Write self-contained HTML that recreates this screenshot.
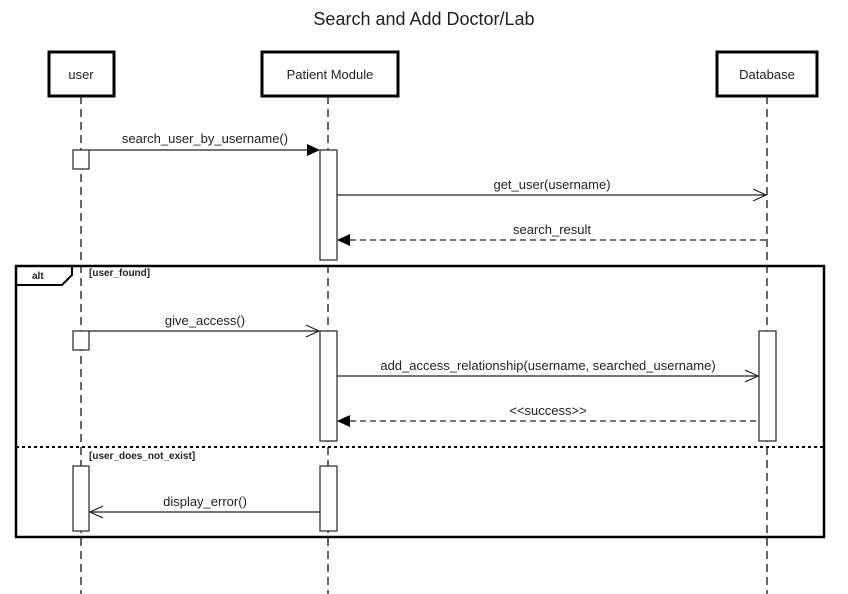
<!DOCTYPE html>
<html><head><style>body{margin:0;background:#fff}svg{display:block}text{font-family:"Liberation Sans",Arial,sans-serif;fill:#222}</style></head>
<body>
<svg width="848" height="594" xmlns="http://www.w3.org/2000/svg">
<rect width="848" height="594" fill="#fff"/>
<text x="424" y="25" font-size="18" text-anchor="middle">Search and Add Doctor/Lab</text>
<g stroke="#333" stroke-width="1.5" stroke-dasharray="8,5" fill="none">
<line x1="81" y1="96" x2="81" y2="594"/>
<line x1="328" y1="96" x2="328" y2="594"/>
<line x1="767" y1="96" x2="767" y2="594"/>
</g>
<g fill="#fff" stroke="#000" stroke-width="3">
<rect x="49" y="52" width="65" height="44"/>
<rect x="262" y="52" width="136" height="44"/>
<rect x="717" y="52" width="100" height="44"/>
</g>
<g font-size="13" text-anchor="middle">
<text x="81" y="79">user</text>
<text x="330" y="79">Patient Module</text>
<text x="767" y="79">Database</text>
</g>
<rect x="16" y="266" width="808" height="271" fill="none" stroke="#000" stroke-width="2.5"/>
<path d="M16 285 H62 L72 275 V266" fill="none" stroke="#000" stroke-width="2"/>
<text x="32" y="279" font-size="10" font-weight="bold">alt</text>
<text x="89" y="276" font-size="10" font-weight="bold">[user_found]</text>
<text x="89" y="459" font-size="10" font-weight="bold">[user_does_not_exist]</text>
<line x1="16" y1="447" x2="824" y2="447" stroke="#000" stroke-width="2" stroke-dasharray="3,3"/>
<g fill="#fff" stroke="#333" stroke-width="1.3">
<rect x="73" y="150" width="16" height="19"/>
<rect x="320" y="150" width="17" height="110"/>
<rect x="73" y="331" width="16" height="19"/>
<rect x="320" y="331" width="17" height="110"/>
<rect x="759" y="331" width="17" height="110"/>
<rect x="73" y="466" width="16" height="65"/>
<rect x="320" y="466" width="17" height="65"/>
</g>
<g stroke="#222" stroke-width="1.2" fill="none">
<line x1="89" y1="150" x2="310" y2="150"/>
<line x1="337" y1="195" x2="766" y2="195"/>
<path d="M753 189 L766 195 L753 201"/>
<line x1="350" y1="240" x2="767" y2="240" stroke-dasharray="6,4"/>
<line x1="89" y1="331" x2="319" y2="331"/>
<path d="M306 325 L319 331 L306 337"/>
<line x1="337" y1="376" x2="758" y2="376"/>
<path d="M745 370 L758 376 L745 382"/>
<line x1="350" y1="421" x2="759" y2="421" stroke-dasharray="6,4"/>
<line x1="90" y1="512" x2="320" y2="512"/>
<path d="M103 506 L90 512 L103 518"/>
</g>
<g fill="#000">
<path d="M307 144 L320 150 L307 156Z"/>
<path d="M350 234 L337 240 L350 246Z"/>
<path d="M350 415 L337 421 L350 427Z"/>
</g>
<g font-size="13" text-anchor="middle">
<text x="205" y="143">search_user_by_username()</text>
<text x="552" y="189">get_user(username)</text>
<text x="552" y="234">search_result</text>
<text x="205" y="325">give_access()</text>
<text x="548" y="370">add_access_relationship(username, searched_username)</text>
<text x="548" y="415">&lt;&lt;success&gt;&gt;</text>
<text x="205" y="506">display_error()</text>
</g>
</svg>
</body></html>
